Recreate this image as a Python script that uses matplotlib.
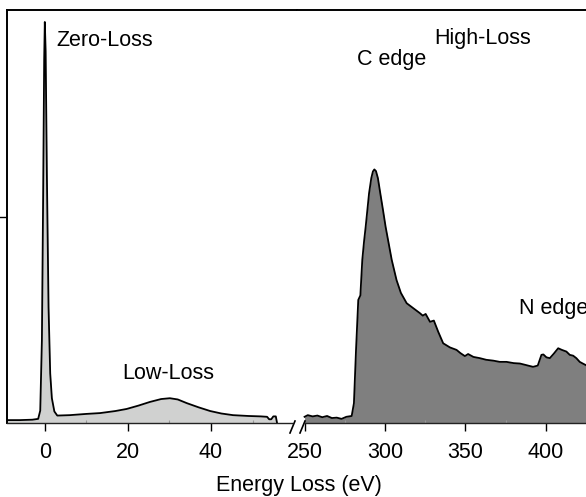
import matplotlib
matplotlib.use("Agg")
import matplotlib.pyplot as plt
import numpy as np

plt.rcParams['font.family'] = ['Liberation Sans', 'DejaVu Sans']

# low-loss part of the spectrum (eV, arb. units)
low_e = [-9.1, -6.0, -3.0, -1.6, -1.1, -0.7, -0.4, -0.15, 0.0, 0.2, 0.5, 0.9, 1.3, 1.7,
         2.3, 3.0, 6.0, 10.0, 13.3, 17.0, 19.7, 22.5, 25.3, 28.0, 30.1, 32.0, 34.2, 37.0,
         39.8, 42.5, 45.3, 49.0, 52.0, 53.5, 54.0, 54.5, 55.0, 55.6, 55.9]
low_i = [0.7, 0.7, 0.8, 1.0, 3.0, 20.0, 55.0, 88.0, 97.1, 90.0, 60.0, 28.0, 12.0, 6.0,
         2.8, 1.8, 1.9, 2.2, 2.4, 2.9, 3.4, 4.2, 5.1, 5.8, 6.0, 5.7, 4.8, 3.8,
         2.9, 2.3, 1.9, 1.7, 1.6, 1.5, 0.9, 0.9, 1.6, 1.6, 0.0]

# high-loss part with the C and N K-edges
high_e = [250.0, 252.0, 255.0, 258.0, 261.0, 264.0, 267.0, 270.0, 273.0, 276.0, 279.3,
          280.7, 282.0, 283.4, 284.7, 285.9, 287.0, 288.0, 290.1, 291.5, 292.5, 293.4,
          294.4, 295.6, 297.1, 298.8, 300.4, 302.3, 304.2, 307.2, 309.9, 313.5, 317.6,
          321.7, 323.5, 325.3, 328.0, 330.4, 333.1, 336.2, 340.4, 344.5, 347.0, 349.7,
          351.7, 355.0, 359.0, 363.0, 367.3, 371.4, 375.6, 380.0, 383.9, 387.0, 390.0,
          392.1, 395.0, 397.3, 398.5, 400.4, 402.5, 405.0, 407.7, 410.0, 412.8, 414.9,
          417.0, 419.0, 421.1, 423.0, 425.0]
high_i = [1.5, 1.9, 1.6, 1.8, 1.4, 1.7, 1.2, 1.3, 1.0, 1.5, 1.7,
          4.8, 17.7, 29.8, 30.9, 39.5, 44.0, 47.5, 55.6, 59.3, 60.9, 61.4,
          61.0, 59.3, 55.6, 51.5, 47.5, 43.5, 39.5, 34.6, 31.5, 29.0, 27.8,
          26.6, 26.0, 26.4, 24.5, 24.8, 22.1, 19.3, 18.3, 17.7, 16.9, 16.2,
          16.7, 16.0, 15.7, 15.3, 15.1, 14.8, 14.8, 14.5, 14.4, 14.1, 13.8,
          13.6, 13.9, 16.5, 16.6, 15.9, 15.7, 16.8, 18.1, 17.7, 17.3, 16.5,
          16.3, 15.7, 14.8, 14.4, 14.0]

low_ticks = [0, 20, 40]
high_ticks = [250, 300, 350, 400]

W, H = 586, 497
fig = plt.figure(figsize=(W / 100, H / 100), dpi=100)
bottom = 1 - 423 / H
top = 1 - 10 / H
x_left, x_break = 7 / W, 297 / W
ax1 = fig.add_axes([x_left, bottom, x_break - x_left, top - bottom])
ax2 = fig.add_axes([x_break, bottom, 1 - x_break, top - bottom])

ax1.set_xlim(-9.1, 60.7)
ax2.set_xlim(245.3, 425.0)
for ax in (ax1, ax2):
    ax.set_ylim(0, 100)
    ax.spines['right'].set_visible(False)
    ax.spines['top'].set_linewidth(1.4)
    ax.spines['bottom'].set_linewidth(1.0)
    ax.spines['bottom'].set_color('#222222')
    ax.tick_params(axis='x', which='major', direction='out', length=6, width=1.0,
                   labelsize=15.5, pad=8)
    ax.tick_params(axis='x', which='minor', direction='in', length=2, width=0.8,
                   color='#999999')
ax1.spines['left'].set_linewidth(1.4)
ax2.spines['left'].set_visible(False)
ax1.spines['bottom'].set_bounds(-9.1, 59.5)
ax2.spines['bottom'].set_bounds(250, 425)

ax1.set_xticks(low_ticks)
ax1.set_xticks([10, 30, 50], minor=True)
ax2.set_xticks(high_ticks)
ax2.set_xticks([275, 325, 375], minor=True)
ax1.set_yticks([50])
ax1.set_yticklabels([])
ax1.tick_params(axis='y', direction='out', length=7, width=1.0)
ax2.set_yticks([])

ax1.fill_between(low_e, low_i, 0, color='#d0d1d0', lw=0)
ax1.plot(low_e, low_i, color='black', lw=1.3)
ax2.fill_between(high_e, high_i, 0, color='#7f7f7f', lw=0)
ax2.plot(high_e, high_i, color='black', lw=1.3)

# break marks on the energy axis
kw = dict(color='black', lw=1.2, clip_on=False, transform=fig.transFigure)
for x0 in (290, 300):
    fig.add_artist(plt.Line2D([x0 / W, (x0 + 5) / W], [1 - 433 / H, 1 - 421 / H], **kw))

ax1.text(2.9, 92.7, 'Zero-Loss', fontsize=15.5, va='center', ha='left')
ax1.text(29.6, 11.9, 'Low-Loss', fontsize=15.5, va='center', ha='center')
ax2.text(304.3, 88.0, 'C edge', fontsize=15.5, va='center', ha='center')
ax2.text(360.5, 93.2, 'High-Loss', fontsize=15.5, va='center', ha='center')
ax2.text(383.2, 27.8, 'N edge', fontsize=15.5, va='center', ha='left')

fig.text(299 / W, 1 - 485 / H, 'Energy Loss (eV)', fontsize=15.5, ha='center', va='center')

fig.savefig('out.png', dpi=100)
